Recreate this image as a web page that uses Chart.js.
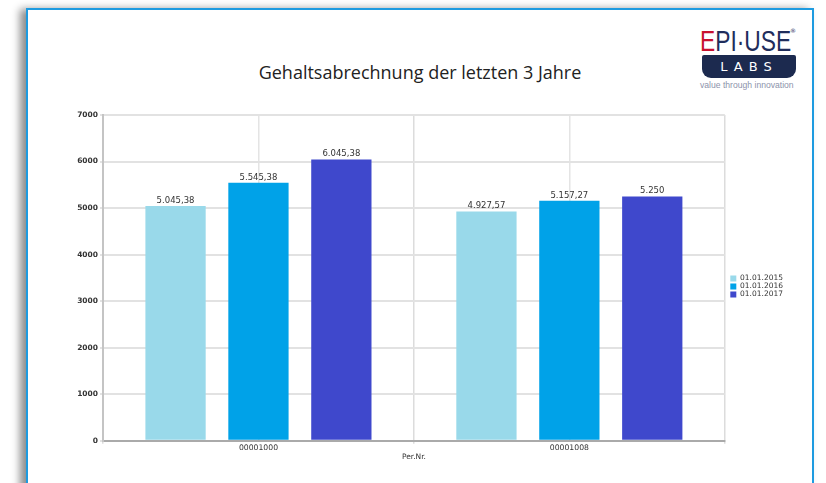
<!DOCTYPE html>
<html>
<head>
<meta charset="utf-8">
<script src="https://cdn.jsdelivr.net/npm/chart.js@4/dist/chart.umd.min.js"></script>
<style>
    html, body { margin: 0; padding: 0; background: #fff; width: 826px; height: 483px; overflow: hidden; }
    .frame {
        position: absolute; left: 26px; top: 8px; width: 784px; height: 500px;
        border: 2px solid #1e9be0; box-shadow: -6px 1px 8px rgba(0,0,0,0.45); background: #fff;
    }
    .title {
        position: absolute; left: 27px; width: 786px; top: 60px; text-align: center;
        font-family: "Open Sans", sans-serif; font-size: 18px; color: #222;
    }
    .logo-top {
        position: absolute; left: 700px; top: 26px;
        font-family: "Liberation Sans", sans-serif; font-size: 30px; line-height: 30px; color: #1f2d5c;
        transform: scaleX(0.76); transform-origin: left; white-space: nowrap;
    }
    .logo-top .e { color: #c8102e; }
    .logo-reg {
        position: absolute; left: 790px; top: 28px; font-family: "DejaVu Sans", sans-serif;
        font-size: 6px; line-height: 6px; color: #1f2d5c;
    }
    .logo-labs {
        position: absolute; left: 702px; top: 55px; width: 94px; height: 23px; background: #1c2a4f;
        border-radius: 2px 2px 9px 9px; color: #fff; text-align: center;
        font-family: "DejaVu Sans", sans-serif; font-size: 13px; line-height: 23px; letter-spacing: 6px;
    }
    .logo-tag {
        position: absolute; left: 700px; top: 80px;
        font-family: "Liberation Sans", sans-serif; font-size: 8.6px; color: #8c93ab;
        white-space: nowrap;
    }
    #chart { position: absolute; left: 0; top: 0; }
</style>
</head>
<body>
<div class="frame"></div>
<div class="title">Gehaltsabrechnung der letzten 3 Jahre</div>
<div class="logo-top"><span class="e">E</span>PI·USE</div>
<div class="logo-reg">®</div>
<div class="logo-labs">LABS</div>
<div class="logo-tag">value through innovation</div>
<canvas id="chart" width="826" height="483"></canvas>
<script>
const categories = ['00001000', '00001008'];
const seriesNames = ['01.01.2015', '01.01.2016', '01.01.2017'];
const values2015 = [5045.38, 4927.57];
const values2016 = [5545.38, 5157.27];
const values2017 = [6045.38, 5250];
const seriesColors = ['#99d9ea', '#00a2e8', '#3f48cc'];

function fmt(v) {
    let parts = v.toFixed(2).split('.');
    let i = parts[0].replace(/\B(?=(\d{3})+(?!\d))/g, '.');
    return parts[1] === '00' ? i : i + ',' + parts[1];
}

const valueLabels = {
    id: 'valueLabels',
    afterDatasetsDraw(chart) {
        const ctx = chart.ctx;
        ctx.save();
        ctx.font = '8.5px "DejaVu Sans"';
        ctx.fillStyle = '#333';
        ctx.textAlign = 'center';
        ctx.textBaseline = 'bottom';
        chart.data.datasets.forEach((ds, i) => {
            chart.getDatasetMeta(i).data.forEach((bar, j) => {
                ctx.fillText(fmt(ds.data[j]), bar.x, bar.y - 1);
            });
        });
        ctx.restore();
    }
};

const allSeries = [values2015, values2016, values2017];

new Chart(document.getElementById('chart'), {
    type: 'bar',
    data: {
        labels: categories,
        datasets: allSeries.map((vals, i) => ({
            label: seriesNames[i],
            data: vals,
            backgroundColor: seriesColors[i],
            borderWidth: 0,
            barPercentage: 0.727,
            categoryPercentage: 0.8
        }))
    },
    options: {
        responsive: false,
        animation: false,
        devicePixelRatio: 1,
        layout: { padding: { left: 60, top: 115, right: 33, bottom: 25 } },
        plugins: {
            legend: {
                position: 'right',
                labels: {
                    boxWidth: 6, boxHeight: 6, padding: 0.5,
                    color: '#333',
                    font: { family: 'DejaVu Sans', size: 7.5 }
                }
            },
            tooltip: { enabled: false }
        },
        scales: {
            x: {
                grid: { offset: true, color: '#dcdcdc', lineWidth: 1.5, tickLength: 3 },
                border: { color: '#aaa', width: 2 },
                ticks: { padding: 0, color: '#333', font: { family: 'DejaVu Sans', size: 7.7 } },
                title: {
                    display: true, text: 'Per.Nr.', color: '#333',
                    padding: { top: 0, bottom: -4 },
                    font: { family: 'DejaVu Sans', size: 7.5 }
                }
            },
            x2: {
                type: 'category',
                position: 'bottom',
                offset: true,
                grid: { offset: false, color: '#e4e4e4', lineWidth: 1.5, drawTicks: false },
                border: { display: false },
                ticks: { display: false },
                afterFit(scale) { scale.height = 0; }
            },
            y: {
                min: 0, max: 7000,
                ticks: {
                    stepSize: 1000, padding: 2, color: '#333',
                    font: { family: 'DejaVu Sans', size: 7.5, weight: 'bold' },
                    callback: v => String(v)
                },
                grid: { color: '#e2e2e2', lineWidth: 2, tickLength: 3 },
                border: { color: '#c4c4c4', width: 2 },
                afterFit(scale) { scale.width = 43; }
            },
            y2: {
                position: 'right',
                grid: { drawOnChartArea: false, drawTicks: false },
                border: { display: false },
                ticks: { display: false },
                afterFit(scale) { scale.width = 5; }
            }
        }
    },
    plugins: [valueLabels]
});
</script>
</body>
</html>
